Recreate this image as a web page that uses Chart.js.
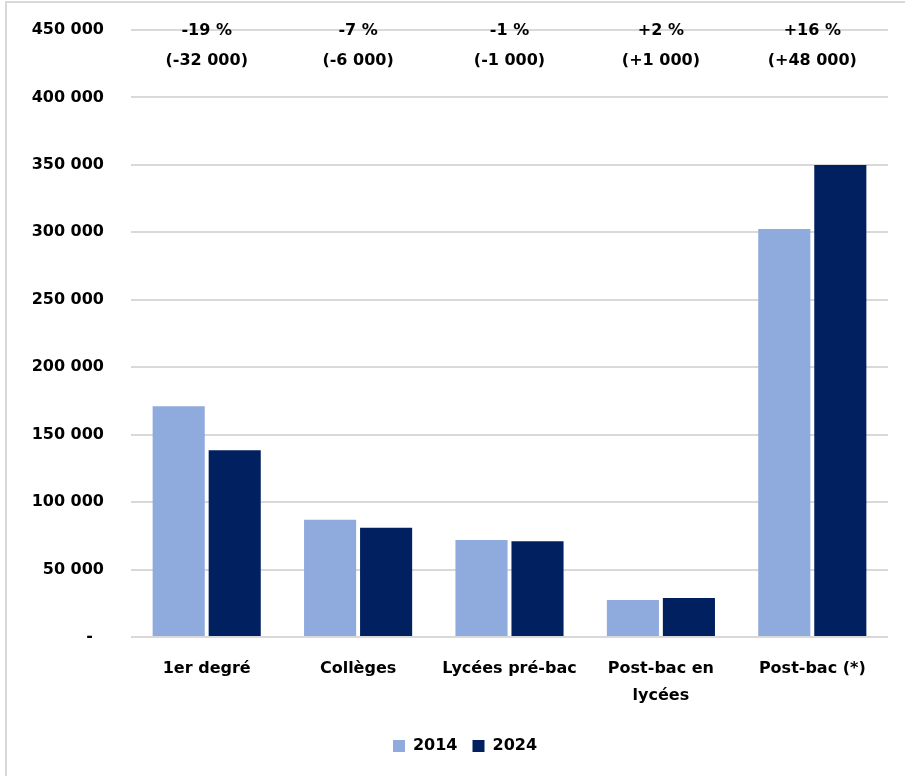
<!DOCTYPE html>
<html>
<head>
<meta charset="utf-8">
<script src="https://cdn.jsdelivr.net/npm/chart.js@4/dist/chart.umd.min.js"></script>
<style>
	html, body { margin: 0; padding: 0; background: #ffffff; }
	#wrap { position: relative; width: 905px; height: 776px; overflow: hidden; }
	#frame
	{
		position: absolute; left: 5px; top: 1px; right: -4px; bottom: -4px;
		border-left: 2px solid #d9d9d9; border-top: 2px solid #d9d9d9;
		pointer-events: none;
	}
	canvas { position: absolute; left: 0; top: 0; }
</style>
</head>
<body>
<div id="wrap">
	<canvas id="chart-canvas" width="905" height="776"></canvas>
	<div id="frame"></div>
</div>
<script>
const categories = ["1er degré", "Collèges", "Lycées pré-bac", ["Post-bac en", "lycées"], "Post-bac (*)"];
const seriesNames = ["2014", "2024"];
const values2014 = [171000, 87000, 72000, 27500, 302500];
const values2024 = [138500, 81000, 71000, 29000, 350000];
const pctChanges = ["-19 %", "-7 %", "-1 %", "+2 %", "+16 %"];
const absChanges = ["(-32 000)", "(-6 000)", "(-1 000)", "(+1 000)", "(+48 000)"];
const yTicks = { min : 0, max : 450000, step : 50000 };

const FONT = "'DejaVu Sans', sans-serif";

function formatTick(value)
{
	if(value == 0)
		return "-  ";
	return String(value).replace(/\B(?=(\d{3})+(?!\d))/g, " ");
}

// variation labels above each group
const changeLabels =
{
	id : "changeLabels",
	afterLayout(chart)
	{
		// legend sits a little right of the centre in the original
		chart.legend.left += 21;
		chart.legend.right += 21;
	},
	afterDatasetsDraw(chart)
	{
		const ctx = chart.ctx;
		const xScale = chart.scales.x;
		const yTop = chart.scales.y.getPixelForValue(yTicks.max);
		ctx.save();
		ctx.font = "bold 16px " + FONT;
		ctx.fillStyle = "#000000";
		ctx.textAlign = "center";
		ctx.textBaseline = "middle";
		for(let i = 0; i < categories.length; i++)
		{
			const x = xScale.getPixelForValue(i);
			ctx.fillText(pctChanges[i], x, yTop + 1);
			ctx.fillText(absChanges[i], x, yTop + 31);
		}
		ctx.restore();
	}
};

new Chart(document.getElementById("chart-canvas").getContext("2d"),
{
	type : "bar",
	data :
	{
		labels : categories,
		datasets :
		[{
			label : seriesNames[0],
			data : values2014,
			backgroundColor : "#8FAADC",
			categoryPercentage : 0.74,
			barPercentage : 0.93
		},
		{
			label : seriesNames[1],
			data : values2024,
			backgroundColor : "#002060",
			categoryPercentage : 0.74,
			barPercentage : 0.93
		}]
	},
	plugins : [changeLabels],
	options :
	{
		responsive : false,
		animation : false,
		layout : { padding : { top : 30, right : 17, bottom : 12, left : 0 } },
		plugins :
		{
			tooltip : { enabled : false },
			legend :
			{
				position : "bottom",
				labels :
				{
					font : { family : FONT, size : 16, weight : "bold" },
					color : "#000000",
					boxWidth : 12,
					boxHeight : 12,
					padding : 15
				}
			}
		},
		scales :
		{
			x :
			{
				grid : { display : false },
				border : { display : false },
				ticks :
				{
					font : { family : FONT, size : 16, weight : "bold", lineHeight : 1.7 },
					color : "#000000",
					padding : 10,
					maxRotation : 0,
					autoSkip : false
				},
				afterFit(scale) { scale.height = 86; }
			},
			y :
			{
				min : yTicks.min,
				max : yTicks.max,
				grid :
				{
					color : "#d9d9d9",
					lineWidth : 2,
					drawTicks : true,
					tickLength : 24,
					tickColor : "rgba(0,0,0,0)"
				},
				border : { display : false },
				ticks :
				{
					stepSize : yTicks.step,
					font : { family : FONT, size : 16, weight : "bold" },
					color : "#000000",
					padding : 3,
					callback : formatTick
				},
				afterFit(scale) { scale.width = 131; }
			}
		}
	}
});
</script>
</body>
</html>
